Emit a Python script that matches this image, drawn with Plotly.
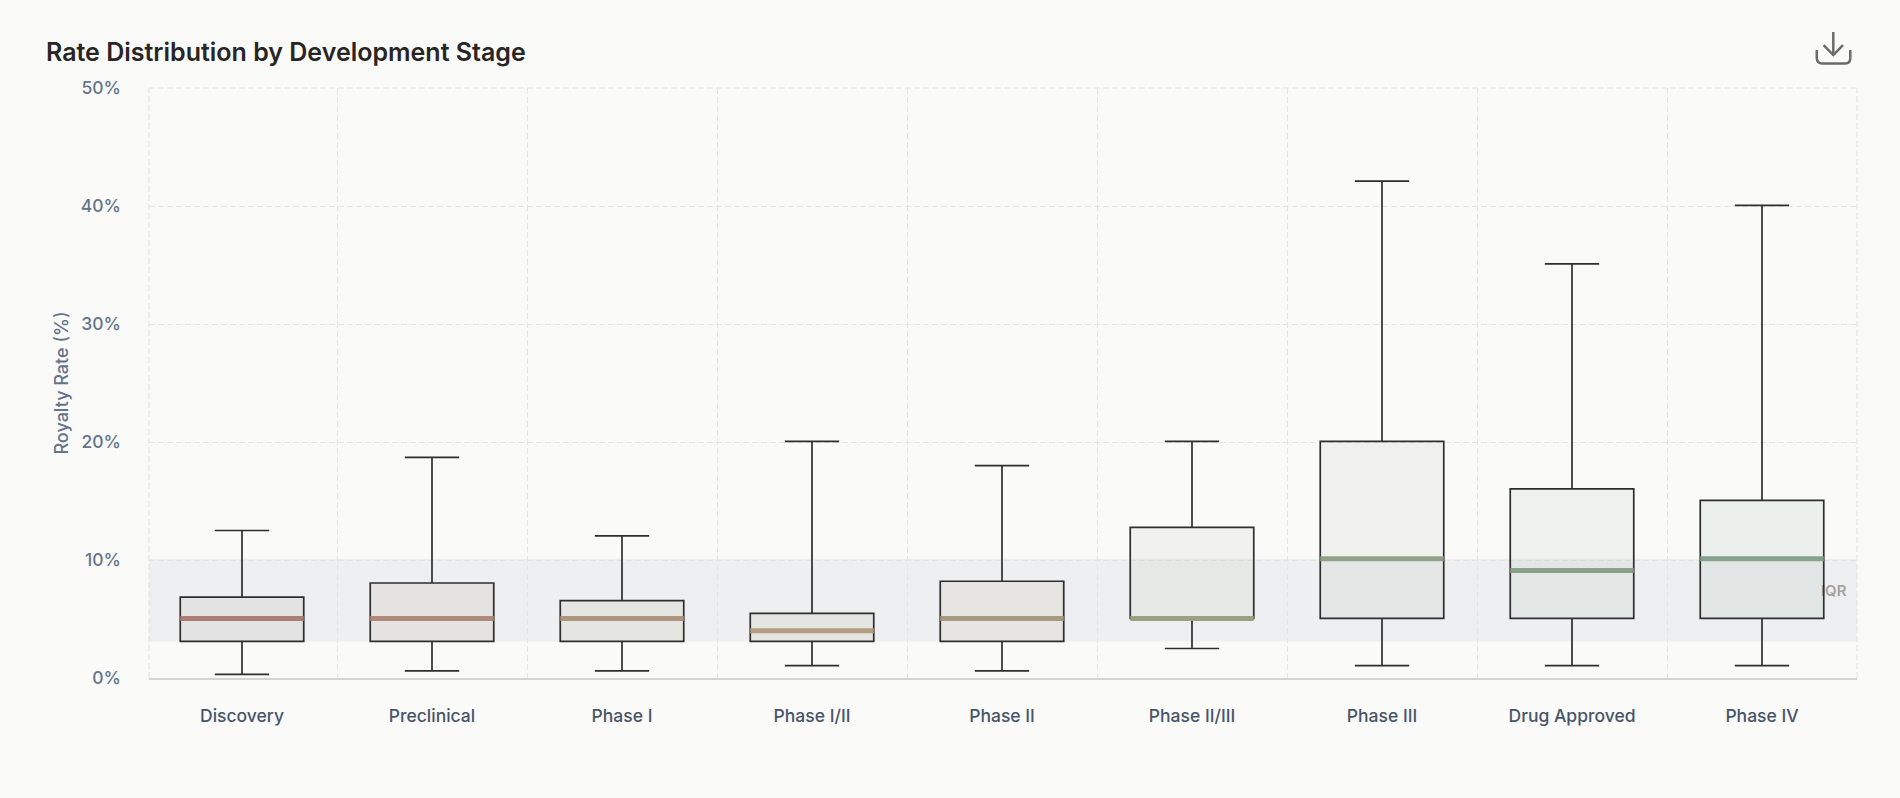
import plotly.graph_objects as go

W, H = 1900, 798
L, R, T, B = 148.7, 43.3, 88, 119.7

stages = ["Discovery", "Preclinical", "Phase I", "Phase I/II", "Phase II", "Phase II/III", "Phase III", "Drug Approved", "Phase IV"]
low = [0.3, 0.6, 0.6, 1.05, 0.6, 2.5, 1.05, 1.05, 1.05]
q1 = [3.1, 3.1, 3.1, 3.1, 3.1, 5.05, 5.05, 5.05, 5.05]
median = [5.05, 5.05, 5.05, 4, 5.05, 5.05, 10.1, 9.1, 10.1]
q3 = [6.86, 8.05, 6.55, 5.47, 8.2, 12.76, 20.05, 16.03, 15.05]
high = [12.5, 18.7, 12.04, 20.05, 18, 20.05, 42.1, 35.1, 40.05]
median_colors = ["#a97f77", "#ae8a7b", "#b0957e", "#b39d80", "#a89a80", "#9ba084", "#90a288", "#8aa189", "#84a28c"]
box_fills = ["rgba(150,140,135,0.11)", "rgba(164,140,125,0.12)", "rgba(160,145,115,0.12)", "rgba(156,148,117,0.12)",
             "rgba(164,148,117,0.12)", "rgba(170,180,140,0.10)", "rgba(160,170,150,0.10)", "rgba(150,177,149,0.11)", "rgba(142,175,157,0.12)"]
y_ticks = [0, 10, 20, 30, 40, 50]
band_low, band_high = 3.1, 10.1

BOX_W = 0.65
BG = "#fafaf9"
GRID = "#e8e4e1"
DASH = "6px,3px"

fig = go.Figure()
for i, s in enumerate(stages):
    fig.add_trace(go.Box(
        x=[i], lowerfence=[low[i]], q1=[q1[i]], median=[median[i]], q3=[q3[i]], upperfence=[high[i]],
        width=BOX_W, whiskerwidth=0.44, fillcolor=box_fills[i],
        line=dict(color="#2e2e2e", width=1.7), boxpoints=False, name=s, showlegend=False,
    ))
for i, s in enumerate(stages):
    fig.add_trace(go.Scatter(
        x=[i - BOX_W / 2, i + BOX_W / 2], y=[median[i], median[i]], mode="lines",
        line=dict(color=median_colors[i], width=5), showlegend=False, hoverinfo="skip",
    ))


def px(x):
    return (x - L) / (W - L - R)


def py(y):
    return (H - B - y) / (H - T - B)


def pt(a, b):
    return f"{px(a):.5f},{py(b):.5f}"


icon_paths = [
    f"M {pt(1833, 32)} L {pt(1833, 55)}",
    f"M {pt(1823.3, 45)} L {pt(1833, 55)} L {pt(1842.7, 45)}",
    f"M {pt(1816.5, 50)} L {pt(1816.5, 58)} Q {pt(1816.5, 63.5)} {pt(1822, 63.5)} L {pt(1845, 63.5)} "
    f"Q {pt(1850, 63.5)} {pt(1850, 58)} L {pt(1850, 50)}",
]
icon = [dict(type="path", path=p, xref="paper", yref="paper", line=dict(color="#6b6b6b", width=2.5)) for p in icon_paths]

edge = dict(color=GRID, width=1.2, dash=DASH)
edges = [
    dict(type="line", xref="paper", yref="paper", x0=0, x1=1, y0=1, y1=1, line=edge, layer="below"),
    dict(type="line", xref="paper", yref="paper", x0=0, x1=0, y0=0, y1=1, line=edge, layer="below"),
    dict(type="line", xref="paper", yref="paper", x0=1, x1=1, y0=0, y1=1, line=edge, layer="below"),
]

fig.update_layout(
    width=W, height=H, margin=dict(l=L, r=R, t=T, b=B, pad=0),
    paper_bgcolor=BG, plot_bgcolor=BG, showlegend=False,
    font=dict(family="Inter", color="#64748b", size=16),
    title=dict(text="Rate Distribution by Development Stage", x=46 / W, xanchor="left", y=1 - 52 / H, yanchor="middle",
               font=dict(family="Inter", size=25, color="#292524", weight=600)),
    xaxis=dict(range=[-0.4895, 8.5], tickmode="array", tickvals=list(range(9)), ticktext=stages, showgrid=False,
               ticks="", ticklabelstandoff=21, zeroline=False,
               tickfont=dict(size=17.5, color="#475569", weight=500),
               showline=True, linecolor="#d4d4d8", linewidth=1.5,
               minor=dict(tickmode="array", tickvals=[i + 0.5 for i in range(8)], showgrid=True, gridcolor=GRID,
                          griddash=DASH, gridwidth=1.2, ticks="")),
    yaxis=dict(range=[0, 50], tickmode="array", tickvals=y_ticks, ticktext=[f"{v}%" for v in y_ticks], showgrid=True,
               gridcolor=GRID, griddash=DASH, gridwidth=1.2, zeroline=False, ticks="", ticklabelstandoff=27,
               tickfont=dict(size=17.5, color="#64748b", weight=500),
               title=dict(text="Royalty Rate (%)", standoff=7, font=dict(size=18, color="#64748b", weight=500))),
    shapes=[dict(type="rect", xref="paper", yref="y", x0=0, x1=1, y0=band_low, y1=band_high, layer="below",
                 fillcolor="rgba(100,116,139,0.08)", line=dict(width=0),
                 label=dict(text="IQR\u00a0\u00a0", textposition="middle right", yanchor="bottom", padding=0,
                            font=dict(family="Inter", size=15, color="#a8a29e", weight=600)))] + edges + icon,
)
fig.write_html("out.html", config={"displayModeBar": False},
               post_script="document.body.style.margin='0';document.body.style.background='#fafaf9';")
